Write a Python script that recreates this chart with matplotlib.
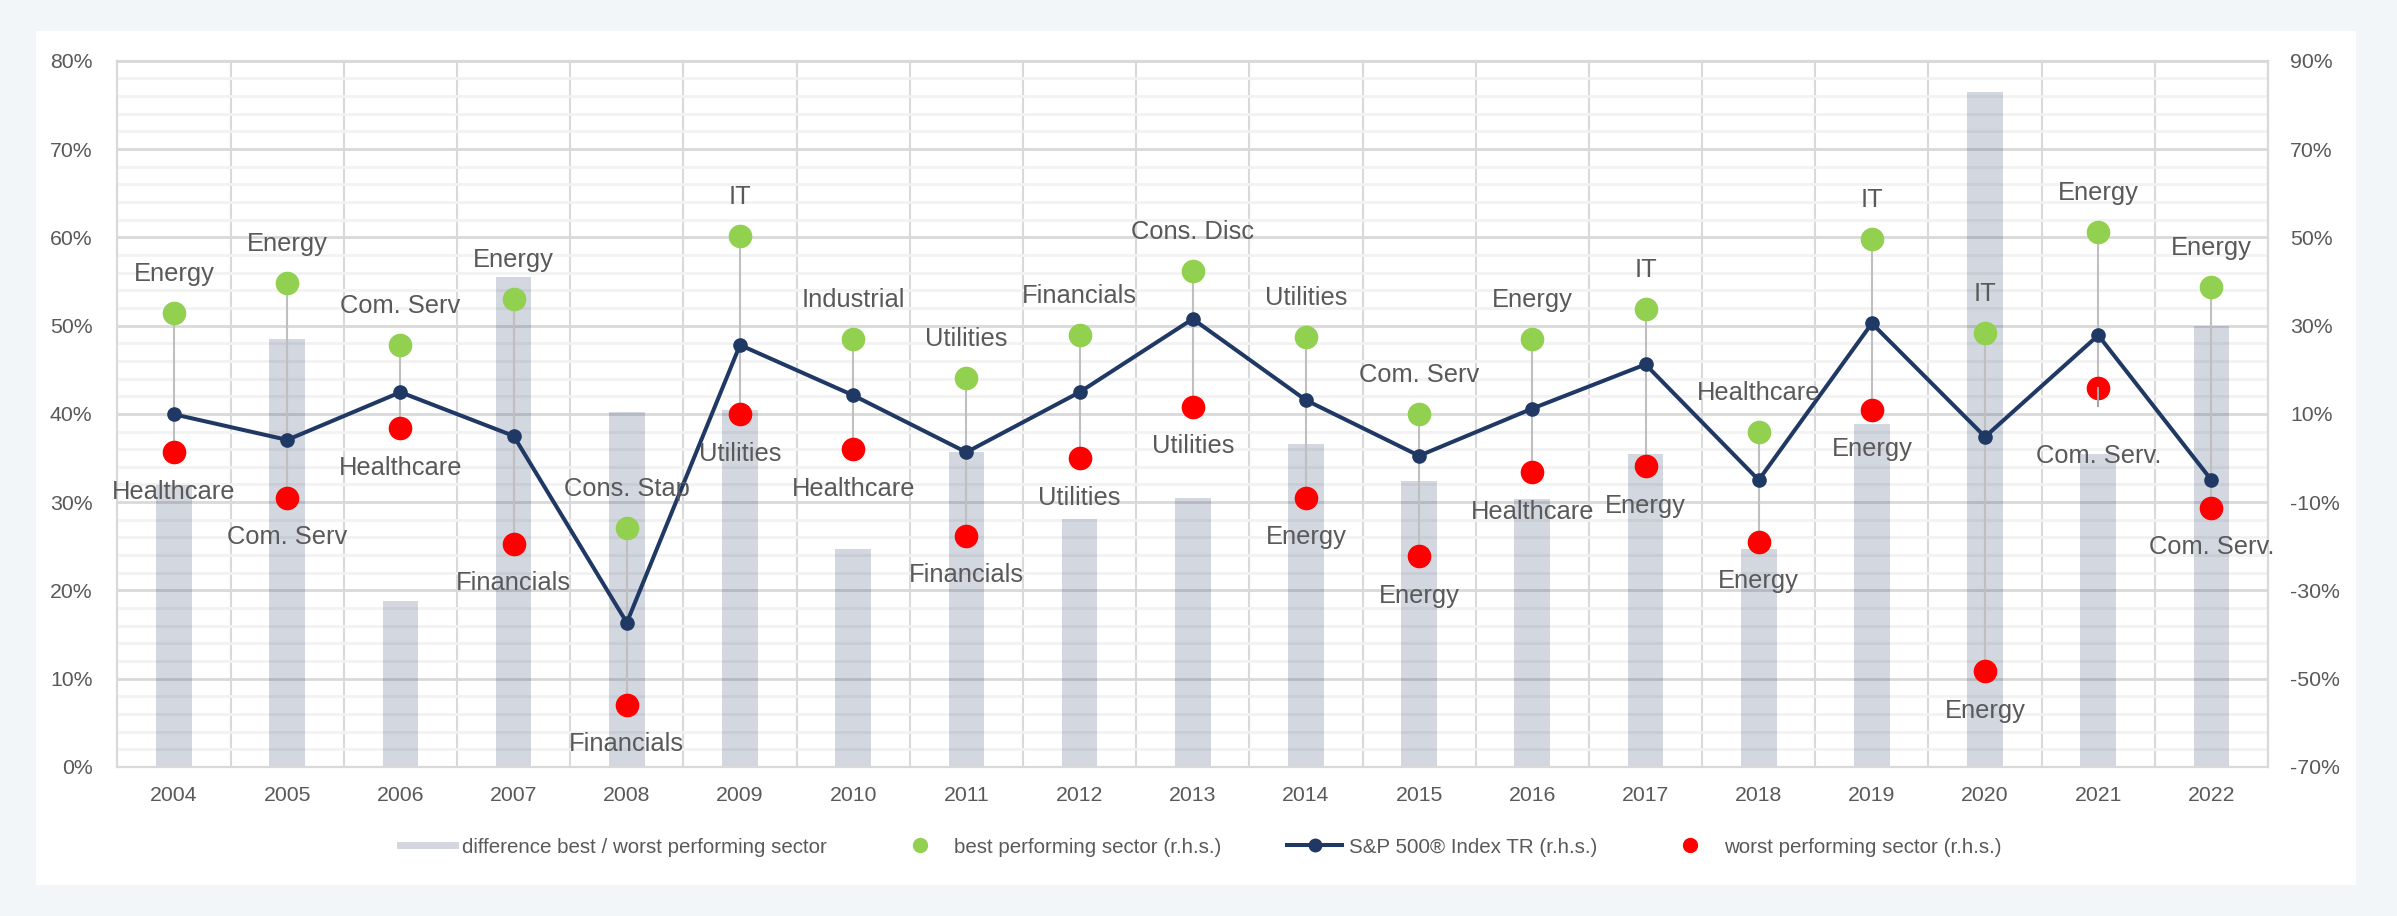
import numpy as np
import matplotlib.pyplot as plt
from matplotlib.lines import Line2D
from matplotlib.patches import Rectangle
from matplotlib.ticker import FuncFormatter, MultipleLocator
from matplotlib import font_manager

# yearly sector returns, S&P 500 TR (r.h.s., %) and best-worst spread (l.h.s., %)
years = [2004, 2005, 2006, 2007, 2008, 2009, 2010, 2011, 2012, 2013,
         2014, 2015, 2016, 2017, 2018, 2019, 2020, 2021, 2022]
best_sector = ['Energy', 'Energy', 'Com. Serv', 'Energy', 'Cons. Stap', 'IT',
               'Industrial', 'Utilities', 'Financials', 'Cons. Disc', 'Utilities',
               'Com. Serv', 'Energy', 'IT', 'Healthcare', 'IT', 'IT', 'Energy', 'Energy']
worst_sector = ['Healthcare', 'Com. Serv', 'Healthcare', 'Financials', 'Financials',
                'Utilities', 'Healthcare', 'Financials', 'Utilities', 'Utilities',
                'Energy', 'Energy', 'Healthcare', 'Energy', 'Energy', 'Energy',
                'Energy', 'Com. Serv.', 'Com. Serv.']
best = [32.8, 39.6, 25.6, 36.0, -15.8, 50.4, 27.0, 18.1, 27.9, 42.4,
        27.4, 9.9, 27.0, 33.8, 5.8, 49.6, 28.3, 51.3, 38.7]
worst = [1.3, -9.0, 6.7, -19.4, -55.9, 9.9, 2.0, -17.6, -0.1, 11.6,
         -9.0, -22.2, -3.2, -1.8, -19.0, 10.9, -48.3, 15.8, -11.3]
spx = [9.9, 4.1, 14.9, 5.0, -37.3, 25.6, 14.2, 1.3, 14.9, 31.5,
       13.1, 0.5, 11.2, 21.2, -5.0, 30.5, 4.8, 27.8, -5.0]
spread = [31.9, 48.5, 18.8, 55.5, 40.2, 40.4, 24.7, 35.7, 28.1, 30.5,
          36.6, 32.4, 30.3, 35.5, 24.7, 38.9, 76.5, 35.5, 50.0]

navy = '#1F3864'
green = '#92D050'
red = '#FF0000'
txt = '#595959'
gridc = '#D9D9D9'

plt.rcParams['font.family'] = ['Liberation Sans', 'DejaVu Sans']
installed = {f.name for f in font_manager.fontManager.ttflist}
if 'Liberation Sans Narrow' in installed:
    small_font = ['Liberation Sans Narrow', 'Liberation Sans']
    tick_size, leg_size = 17.3, 17.5
else:
    small_font = ['Liberation Sans', 'DejaVu Sans']
    tick_size, leg_size = 15.3, 14.8

fig = plt.figure(figsize=(23.97, 9.16), dpi=100, facecolor='#F3F6F9')
fig.patches.append(Rectangle((0.015, 0.034), 0.968, 0.932, transform=fig.transFigure,
                             facecolor='white', edgecolor='none', zorder=-10))

ax = fig.add_axes([0.049, 0.1627, 0.8972, 0.771])
ax.patch.set_alpha(0)
ax2 = ax.twinx()
x = np.arange(len(years))

# spread bars on the left axis
ax.bar(x, np.array(spread) / 100, width=0.315, color=navy, alpha=0.2, zorder=2)
ax.set_ylim(0, 0.8)
ax.set_xlim(-0.5, len(years) - 0.5)
ax.yaxis.set_major_locator(MultipleLocator(0.1))
ax.yaxis.set_minor_locator(MultipleLocator(0.02))
ax.yaxis.set_major_formatter(FuncFormatter(lambda v, p: f'{v * 100:.0f}%'))
ax.set_xticks(x)
ax.set_xticklabels([str(y) for y in years])
ax.set_xticks(np.arange(-0.5, len(years)), minor=True)
ax.grid(True, which='minor', axis='y', color='#F2F2F2', lw=2)
ax.grid(True, which='major', axis='y', color=gridc, lw=2)
ax.grid(True, which='minor', axis='x', color=gridc, lw=1.5)
ax.set_axisbelow(True)
ax.tick_params(which='both', length=0, colors=txt, labelsize=tick_size)
ax.tick_params(axis='y', pad=18)
ax.tick_params(axis='x', pad=14)
for lab in ax.get_xticklabels() + ax.get_yticklabels():
    lab.set_family(small_font)

# sector returns and index on the right axis
ax2.set_ylim(-70, 90)
ax2.set_yticks(np.arange(-70, 91, 20))
ax2.yaxis.set_major_formatter(FuncFormatter(lambda v, p: f'{v:.0f}%'))
ax2.tick_params(length=0, colors=txt, labelsize=tick_size, pad=16)
for lab in ax2.get_yticklabels():
    lab.set_family(small_font)

ax2.vlines(x, worst, best, color='#BFBFBF', lw=1.5, zorder=1)
ax2.plot(x, spx, color=navy, lw=2.9, marker='o', ms=9.5, zorder=3)
ax2.plot(x, best, ls='none', marker='o', ms=16, color=green, zorder=4)
ax2.plot(x, worst, ls='none', marker='o', ms=16, color=red, zorder=4)

for i in range(len(years)):
    ax2.annotate(best_sector[i], (x[i], best[i]), xytext=(0, 28), textcoords='offset points',
                 ha='center', va='center', fontsize=18.4, color=txt, zorder=5)
    dy = -49 if years[i] == 2021 else -28.5
    ax2.annotate(worst_sector[i], (x[i], worst[i]), xytext=(0, dy), textcoords='offset points',
                 ha='center', va='center', fontsize=18.4, color=txt, zorder=5)
    if years[i] == 2021:
        # leader line to the moved label
        ax2.plot([x[i], x[i]], [worst[i], worst[i] - 4], color='#A6A6A6', lw=1.5, zorder=5)

for a in (ax, ax2):
    for s in a.spines.values():
        s.set_color(gridc)
        s.set_linewidth(1.5)

handles = [
    Line2D([], [], color='#D2D7E0', lw=5),
    Line2D([], [], ls='none', marker='o', ms=10, color=green),
    Line2D([], [], color=navy, lw=2.9, marker='o', ms=9),
    Line2D([], [], ls='none', marker='o', ms=10, color=red),
]
labels = ['difference best / worst performing sector', 'best performing sector (r.h.s.)',
          'S&P 500\u00ae Index TR (r.h.s.)', 'worst performing sector (r.h.s.)']
leg = fig.legend(handles, labels, loc='center', bbox_to_anchor=(0.501, 0.0753), ncol=4,
                 frameon=False, handlelength=2.7, handletextpad=0.3, columnspacing=3.2,
                 prop={'family': small_font, 'size': leg_size})
for t in leg.get_texts():
    t.set_color(txt)

fig.savefig('out.png', dpi=100, facecolor=fig.get_facecolor())
